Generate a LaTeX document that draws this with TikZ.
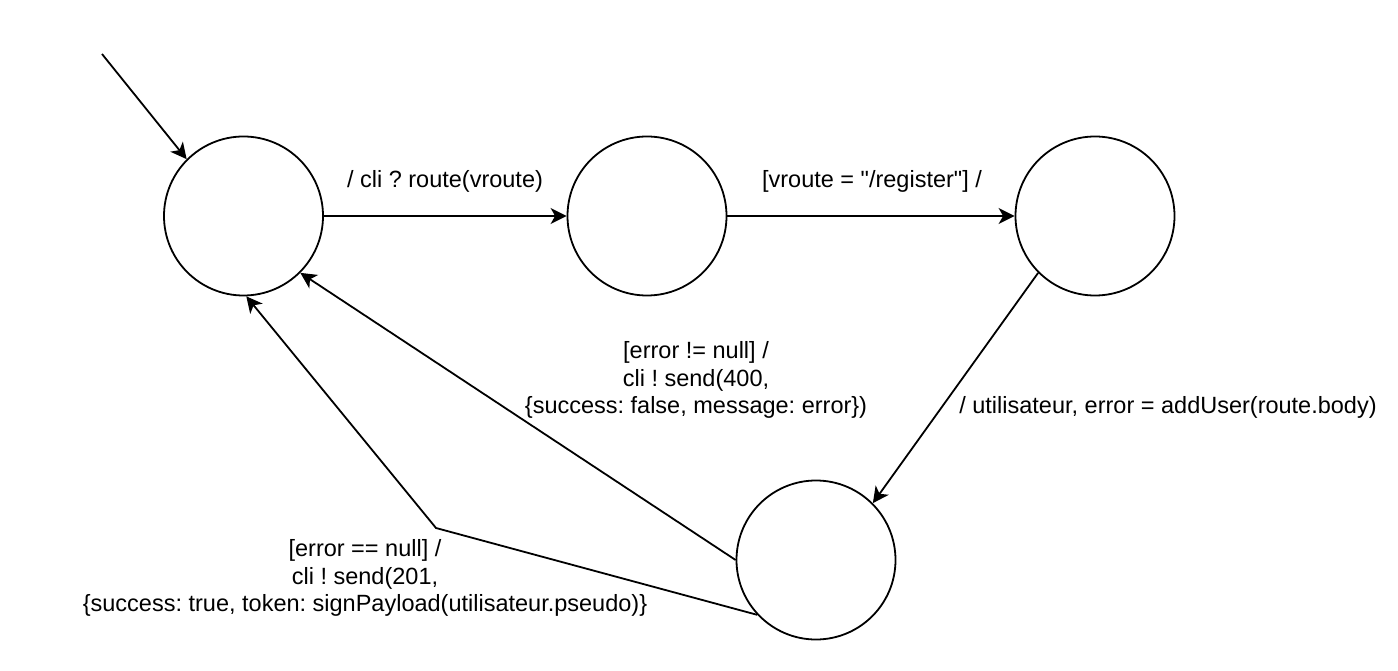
\documentclass[tikz,border=0pt]{standalone}
\usepackage{fontspec}
\setmainfont{Liberation Sans}
\usetikzlibrary{arrows.meta}
\frenchspacing

\begin{document}
\begin{tikzpicture}[x=1pt,y=-1pt,line width=1.8pt,
    state/.style={circle, draw, minimum size=159pt, inner sep=0pt},
    trans/.style={align=center, font=\fontsize{23.5}{27.5}\selectfont},
    >={Stealth[length=16pt,width=16pt,inset=4.5pt]}]
  \useasboundingbox (0,0) rectangle (1398,671);
  % states
  \node [state] (init) at (243.5,216) {};
  \node [state] (route) at (647,216) {};
  \node [state] (register) at (1095,216) {};
  \node [state] (added) at (816,560) {};
  \coordinate (start) at (102,54);
  \coordinate (bend) at (436,528);
  % transitions
  \draw [->] (start) -- (init.135);
  \draw [->] (init.east) -- (route.west);
  \draw [->] (route.east) -- (register.west);
  \draw [->] (register.225) -- (added.45);
  \draw [->] (added.180) -- (init.-45);
  \draw [->] (added.223) -- (bend) -- (init.-88);
  % labels
  \node [trans] (lroute) at (445,181) {/ cli ? route(vroute)};
  \node [trans] (lregister) at (872,181) {[vroute = \textquotedbl/register\textquotedbl] /};
  \node [trans] (ladd) at (1168,407) {/ utilisateur, error = addUser(route.body)};
  \node [trans] (lfail) at (696,380) {[error != null] /\\ cli ! send(400,\\ \{success: false, message: error\})};
  \node [trans] (lok) at (365,578) {[error == null] /\\ cli ! send(201,\\ \{success: true, token: signPayload(utilisateur.pseudo)\}};
\end{tikzpicture}
\end{document}
